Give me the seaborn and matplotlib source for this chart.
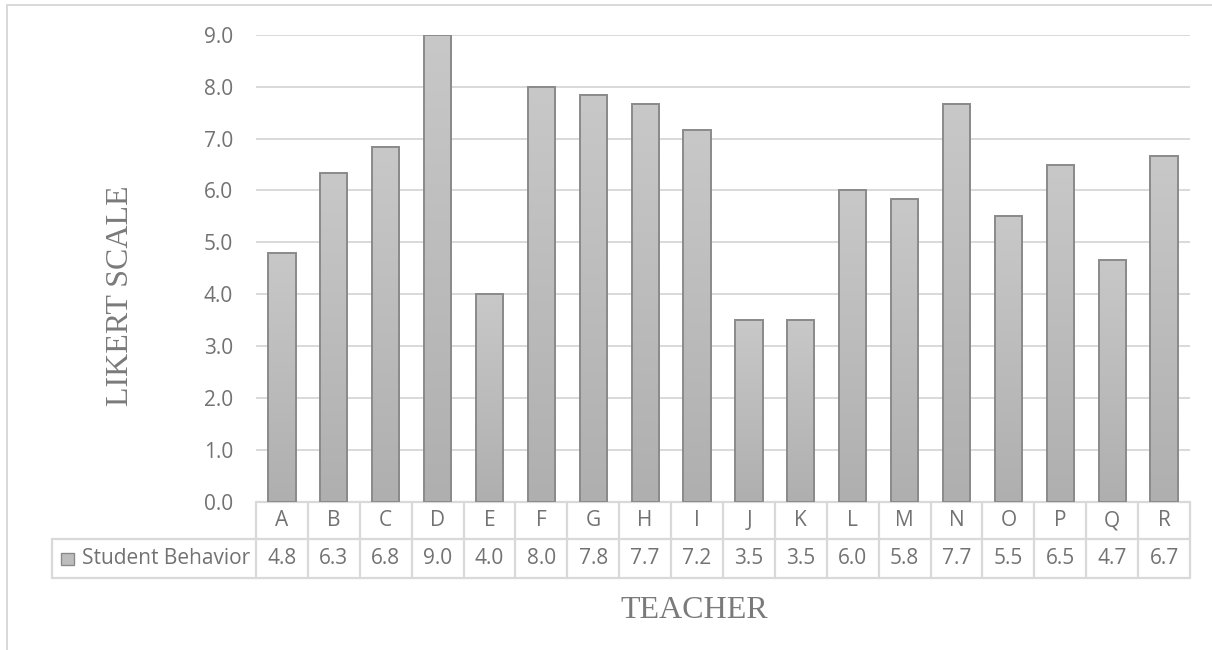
import numpy as np
import pandas as pd
import matplotlib
matplotlib.use("Agg")
import matplotlib.pyplot as plt
import matplotlib.transforms as mtransforms
from matplotlib.colors import LinearSegmentedColormap
from matplotlib.lines import Line2D
from matplotlib.patches import Rectangle
import seaborn as sns

# Average Likert rating of student behaviour for each teacher
teachers = ["A", "B", "C", "D", "E", "F", "G", "H", "I",
            "J", "K", "L", "M", "N", "O", "P", "Q", "R"]
scores = [4.8, 6.33, 6.83, 9.0, 4.0, 8.0, 7.83, 7.67, 7.17,
          3.5, 3.5, 6.0, 5.83, 7.67, 5.5, 6.5, 4.67, 6.67]
series_name = "Student Behavior"
y_ticks = [0, 1, 2, 3, 4, 5, 6, 7, 8, 9]

df = pd.DataFrame({"teacher": teachers, "score": scores})

sns.set_theme(style="white")
plt.rcParams["font.family"] = ["Open Sans", "DejaVu Sans"]

W, H = 1212, 650
fig = plt.figure(figsize=(W / 100, H / 100), dpi=100)
fig.patch.set_facecolor("white")

# plot area in pixels
px_left, px_right, px_top, px_bottom = 256, 1190, 34.7, 502
ax = fig.add_axes([px_left / W, 1 - px_bottom / H,
                   (px_right - px_left) / W, (px_bottom - px_top) / H])

text_col = "#727272"
line_col = "#d9d9d9"
fs = 15

sns.barplot(data=df, x="teacher", y="score", order=teachers, ax=ax,
            color="#bfbfbf", width=0.526, edgecolor="#8a8a8a",
            linewidth=1.4, saturation=1, zorder=3)

# vertical grey gradient inside every bar
grad_cmap = LinearSegmentedColormap.from_list("bar", ["#afafaf", "#c8c8c8"])
grad = np.linspace(0, 1, 256).reshape(-1, 1)
for p in list(ax.patches):
    x0, y0 = p.get_x(), p.get_y()
    w, h = p.get_width(), p.get_height()
    im = ax.imshow(grad, extent=[x0, x0 + w, y0, y0 + h], origin="lower",
                   aspect="auto", cmap=grad_cmap, zorder=2.5,
                   interpolation="bilinear")
    im.set_clip_path(p)
    p.set_facecolor("none")

n = len(teachers)
ax.set_xlim(-0.5, n - 0.5)
ax.set_ylim(0, 9)
ax.set_aspect("auto")
ax.set_yticks(y_ticks)
ax.set_yticklabels([f"{v:.1f}" for v in y_ticks])
ax.set_xticks([])
ax.tick_params(axis="y", length=0, pad=16.5, labelsize=fs, labelcolor=text_col)
ax.grid(axis="y", color=line_col, linewidth=1.4, zorder=0)
for s in ax.spines.values():
    s.set_visible(False)
ax.set_xlabel("")
ax.set_ylabel("")

# data table beneath the plot area
ax_h = px_bottom - px_top
row1 = -37 / ax_h
row2 = -76 / ax_h
leg_left = (52 - px_left) / (px_right - px_left)
tr = ax.transAxes
blend = mtransforms.blended_transform_factory(ax.transData, ax.transAxes)

def tline(xs, ys):
    ax.add_line(Line2D(xs, ys, transform=tr, color=line_col, lw=1.6,
                       clip_on=False, zorder=1))

for i in range(n + 1):
    tline([i / n, i / n], [0, row2])
tline([0, 1], [0, 0])
tline([leg_left, 1], [row1, row1])
tline([leg_left, 1], [row2, row2])
tline([leg_left, leg_left], [row1, row2])

for i, (t, v) in enumerate(zip(teachers, scores)):
    ax.text(i, row1 / 2, t, transform=blend, ha="center", va="center",
            fontsize=fs, color=text_col, clip_on=False)
    ax.text(i, (row1 + row2) / 2, f"{v:.1f}", transform=blend,
            ha="center", va="center", fontsize=fs, color=text_col,
            clip_on=False)

# legend key inside the table
fig.add_artist(Rectangle((61 / W, 1 - 565 / H), 12.5 / W, 12.5 / H,
                         transform=fig.transFigure, facecolor="#bdbdbd",
                         edgecolor="#8a8a8a", lw=1.0))
fig.text(82 / W, 1 - 558 / H, series_name, ha="left", va="center",
         fontsize=fs, color=text_col)

# axis titles
fig.text(121 / W, 1 - 296 / H, "LIKERT SCALE", rotation=90,
         ha="center", va="center", fontsize=23, color="#7a7a7a",
         family=["Liberation Serif", "DejaVu Serif"])
fig.text(694 / W, 1 - 611 / H, "TEACHER", ha="center", va="center",
         fontsize=23, color="#7a7a7a",
         family=["Liberation Serif", "DejaVu Serif"])

# chart frame edges
fig.add_artist(Line2D([7 / W, 1], [1 - 5 / H, 1 - 5 / H],
                      transform=fig.transFigure, color=line_col, lw=1.4))
fig.add_artist(Line2D([7 / W, 7 / W], [1 - 5 / H, 0],
                      transform=fig.transFigure, color=line_col, lw=1.4))

fig.savefig("out.png", dpi=100, facecolor="white")
